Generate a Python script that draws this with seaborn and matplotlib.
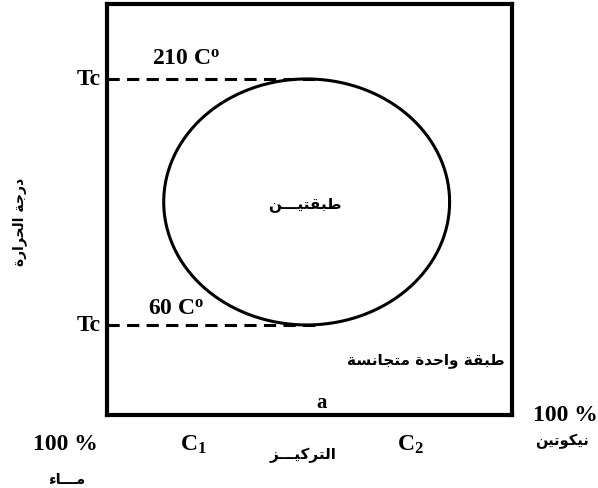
import numpy as np
import pandas as pd
import matplotlib
matplotlib.use("Agg")
import matplotlib.pyplot as plt
import seaborn as sns

# Water / nicotine mutual-solubility loop
comp_range = [0, 100]            # % nicotine
temp_range = [5.1, 255.7]        # temperature axis span
tc_temps = [60, 210]             # lower and upper critical solution temperatures
tc_labels = ["60 C$^{\\mathrm{o}}$", "210 C$^{\\mathrm{o}}$"]
crit_comp = 52                   # composition at the critical points
loop_comp = [14.0, 84.6]         # leftmost / rightmost composition of the loop

# Arabic labels
two_layers = "طبقتيـــن"
one_layer = "طبقة واحدة متجانسة"
conc_label = "التركيـــز"
temp_label = "درجة الحرارة"
water_label = "مـــاء"
nicotine_label = "نيكوتين"

# ---- minimal Arabic contextual shaping (presentation forms) ----
DUAL = {"ب": 0xFE8F, "ت": 0xFE95, "ج": 0xFE9D, "ح": 0xFEA1, "س": 0xFEB1,
        "ط": 0xFEC1, "ق": 0xFED5, "ك": 0xFED9, "ل": 0xFEDD, "م": 0xFEE1,
        "ن": 0xFEE5, "ي": 0xFEF1}
RIGHT = {"ا": 0xFE8D, "د": 0xFEA9, "ر": 0xFEAD, "ز": 0xFEAF, "و": 0xFEED,
         "ة": 0xFE93}
TATWEEL = "\u0640"


def shape(text):
    dual = set(DUAL) | {TATWEEL}
    joining = dual | set(RIGHT)
    out = []
    for i, ch in enumerate(text):
        prev = text[i - 1] if i > 0 else ""
        nxt = text[i + 1] if i + 1 < len(text) else ""
        jp = prev in dual and ch in joining
        jn = ch in dual and nxt in joining
        if ch == TATWEEL:
            out.append(ch)
        elif ch in DUAL:
            base = DUAL[ch]
            off = 3 if (jp and jn) else 1 if jp else 2 if jn else 0
            out.append(chr(base + off))
        elif ch in RIGHT:
            out.append(chr(RIGHT[ch] + (1 if jp else 0)))
        elif ch == "ء":
            out.append("\uFE80")
        else:
            out.append(ch)
    return "".join(reversed(out))


sns.set_theme(style="white")
plt.rcParams["font.family"] = ["Liberation Serif", "DejaVu Sans"]
plt.rcParams["mathtext.fontset"] = "custom"
plt.rcParams["mathtext.rm"] = "Liberation Serif:bold"
plt.rcParams["mathtext.it"] = "Liberation Serif:bold"
plt.rcParams["mathtext.bf"] = "Liberation Serif:bold"

W, H = 598, 489
fig = plt.figure(figsize=(W / 100, H / 100), dpi=100)
ax = fig.add_axes([107 / W, (H - 416) / H, 405 / W, 411 / H])

# solubility loop (ellipse through both critical temperatures)
t = np.linspace(0, 2 * np.pi, 400)
cx = (loop_comp[0] + loop_comp[1]) / 2
rx = (loop_comp[1] - loop_comp[0]) / 2
cy = (tc_temps[0] + tc_temps[1]) / 2
ry = (tc_temps[1] - tc_temps[0]) / 2
loop = pd.DataFrame({"comp": cx + rx * np.cos(t), "temp": cy + ry * np.sin(t)})
sns.lineplot(data=loop, x="comp", y="temp", sort=False, color="black",
             linewidth=2.2, ax=ax, estimator=None)

# dashed critical-temperature lines
for tc in tc_temps:
    ax.plot([comp_range[0], crit_comp], [tc, tc], color="black",
            linewidth=2.2, linestyle=(0, (4, 2.4)))

ax.set_xlim(comp_range)
ax.set_ylim(temp_range)
ax.set_xticks([])
ax.set_yticks([])
ax.set_xlabel("")
ax.set_ylabel("")
for sp in ax.spines.values():
    sp.set_visible(True)
    sp.set_color("black")
    sp.set_linewidth(3)

bold_serif = dict(fontweight="bold", family="Liberation Serif", color="black")
arab = dict(fontweight="bold", family="DejaVu Sans", color="black")


def px(x, y):
    return x / W, 1 - y / H


# critical temperature labels
ax.text(-1.5, tc_temps[1], "Tc", ha="right", va="center", fontsize=17, **bold_serif)
ax.text(-1.5, tc_temps[0], "Tc", ha="right", va="center", fontsize=17, **bold_serif)
fig.text(*px(152, 59), tc_labels[1], ha="left", va="center", fontsize=17, **bold_serif)
fig.text(*px(148, 309), tc_labels[0], ha="left", va="center", fontsize=17, **bold_serif)

# region labels
fig.text(*px(305, 205), shape(two_layers), ha="center", va="center", fontsize=11, **arab)
fig.text(*px(426, 361), shape(one_layer), ha="center", va="center", fontsize=11, **arab)
fig.text(*px(322, 403), "a", ha="center", va="center", fontsize=15, **bold_serif)

# axis annotations
fig.text(*px(193, 445), "C$_{1}$", ha="center", va="center", fontsize=17, **bold_serif)
fig.text(*px(410, 445), "C$_{2}$", ha="center", va="center", fontsize=17, **bold_serif)
fig.text(*px(303, 455), shape(conc_label), ha="center", va="center", fontsize=11, **arab)
fig.text(*px(65, 445), "100 %", ha="center", va="center", fontsize=17, **bold_serif)
fig.text(*px(67, 479), shape(water_label), ha="center", va="center", fontsize=10.5, **arab)
fig.text(*px(533, 416), "100 %", ha="left", va="center", fontsize=17, **bold_serif)
fig.text(*px(562, 441), shape(nicotine_label), ha="center", va="center", fontsize=10.5, **arab)
fig.text(*px(20, 222), shape(temp_label), ha="center", va="center", rotation=90,
         fontsize=10, **arab)

fig.savefig("out.png", dpi=100, facecolor="white")
